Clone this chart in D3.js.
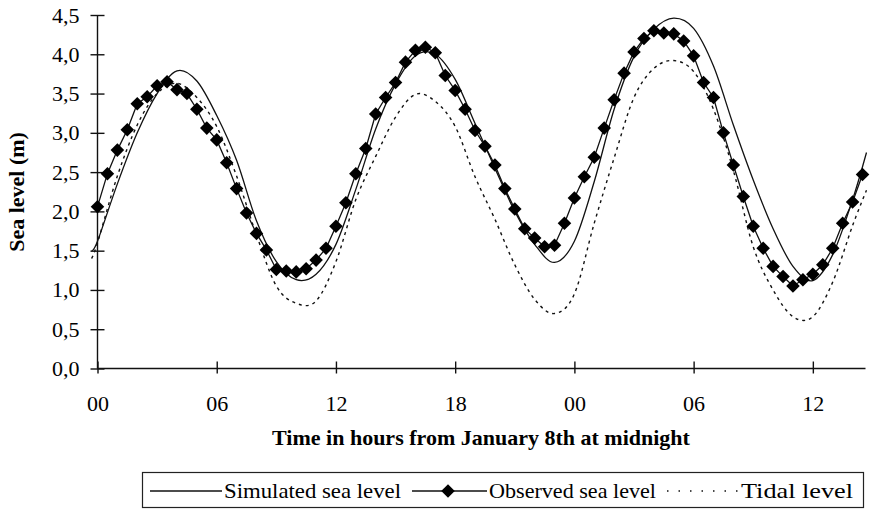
<!doctype html>
<html lang="en">
<head>
<meta charset="utf-8">
<title>Sea level</title>
<script src="https://d3js.org/d3.v7.min.js"></script>
<style>
  body { margin: 0; background: #fff; }
  svg text { font-family: "Liberation Serif", "DejaVu Serif", serif; fill: #000; }
  .axis path, .axis line { stroke: #111; stroke-width: 1.4; }
  .axis text { font-size: 22px; }
</style>
</head>
<body>
<svg width="871" height="509"></svg>
<script>
// observed sea level, every half hour from midnight (hours, m)
var obsHours = [0, 0.5, 1, 1.5, 2, 2.5, 3, 3.5, 4, 4.5, 5, 5.5, 6, 6.5, 7, 7.5, 8, 8.5, 9, 9.5,
  10, 10.5, 11, 11.5, 12, 12.5, 13, 13.5, 14, 14.5, 15, 15.5, 16, 16.5, 17, 17.5, 18, 18.5, 19, 19.5,
  20, 20.5, 21, 21.5, 22, 22.5, 23, 23.5, 24, 24.5, 25, 25.5, 26, 26.5, 27, 27.5, 28, 28.5, 29, 29.5,
  30, 30.5, 31, 31.5, 32, 32.5, 33, 33.5, 34, 34.5, 35, 35.5, 36, 36.5, 37, 37.5, 38, 38.5];
var observed = [2.06, 2.48, 2.78, 3.04, 3.37, 3.46, 3.60, 3.65, 3.55, 3.50, 3.30, 3.06, 2.91, 2.62, 2.29, 1.98, 1.72, 1.51, 1.26, 1.24,
  1.23, 1.27, 1.38, 1.53, 1.81, 2.11, 2.48, 2.80, 3.24, 3.45, 3.64, 3.90, 4.05, 4.09, 4.02, 3.73, 3.54, 3.30, 3.03, 2.83,
  2.59, 2.29, 2.03, 1.78, 1.66, 1.55, 1.57, 1.85, 2.17, 2.44, 2.69, 3.06, 3.42, 3.76, 4.03, 4.20, 4.30, 4.27, 4.26, 4.17,
  3.98, 3.64, 3.45, 3.00, 2.59, 2.19, 1.81, 1.53, 1.30, 1.17, 1.05, 1.13, 1.20, 1.32, 1.53, 1.85, 2.12, 2.47];

// simulated and tidal curves, read roughly every hour
var curveHours = [-0.3, 0, 1, 2, 3, 4, 5, 6, 7, 8, 9, 10, 11, 12, 13, 14, 15, 16, 17, 18, 19,
  20, 21, 22, 23, 24, 25, 26, 27, 28, 29, 30, 31, 32, 33, 34, 35, 36, 37, 38, 38.7];
var simulated = [1.50, 1.62, 2.35, 3.00, 3.50, 3.79, 3.66, 3.22, 2.65, 1.88, 1.36, 1.13, 1.20, 1.58, 2.28, 3.05, 3.62, 3.98, 4.00, 3.68, 3.12,
  2.55, 2.00, 1.58, 1.35, 1.62, 2.38, 3.30, 3.97, 4.32, 4.46, 4.33, 3.85, 3.10, 2.40, 1.78, 1.30, 1.12, 1.45, 2.15, 2.75];
var tidal = [1.40, 1.60, 2.45, 3.10, 3.50, 3.63, 3.45, 3.08, 2.45, 1.70, 1.05, 0.83, 0.86, 1.36, 2.15, 2.70, 3.20, 3.49, 3.40, 3.08, 2.44,
  1.90, 1.32, 0.88, 0.70, 0.95, 1.85, 2.68, 3.45, 3.82, 3.92, 3.78, 3.30, 2.52, 1.55, 1.00, 0.66, 0.66, 1.10, 1.82, 2.27];

var yTicks = [0, 0.5, 1, 1.5, 2, 2.5, 3, 3.5, 4, 4.5];
var xTicks = [0, 6, 12, 18, 24, 30, 36];
var xTickLabels = ["00", "06", "12", "18", "00", "06", "12"];
var seriesNames = ["Simulated sea level", "Observed sea level", "Tidal level"];

var serif = "'Liberation Serif', 'DejaVu Serif', serif";
var svg = d3.select("svg");

var x = d3.scaleLinear().domain([0, 38.65]).range([97.5, 865.5]);
var y = d3.scaleLinear().domain([0, 4.5]).range([368.5, 15]);

// y axis, ticks cross the line
var yAxis = svg.append("g").attr("class", "axis")
  .attr("transform", "translate(" + x(0) + ",0)")
  .call(d3.axisLeft(y).tickValues(yTicks).tickSize(7).tickPadding(11)
    .tickFormat(function(d) { return d3.format(".1f")(d).replace(".", ","); }));
yAxis.attr("font-family", serif);
yAxis.select(".domain").attr("d", "M0," + y(0) + "V" + y(4.5));
yAxis.selectAll(".tick line").attr("x1", 7);

var xAxis = svg.append("g").attr("class", "axis")
  .attr("transform", "translate(0," + y(0) + ")")
  .call(d3.axisBottom(x).tickValues(xTicks).tickSize(5).tickPadding(22)
    .tickFormat(function(d, i) { return xTickLabels[i]; }));
xAxis.attr("font-family", serif);
xAxis.select(".domain").attr("d", "M" + x(0) + ",0H" + x(38.65));
xAxis.selectAll(".tick line").attr("y1", -7);

svg.append("text")
  .attr("transform", "translate(24," + 192 + ") rotate(-90)")
  .attr("text-anchor", "middle")
  .style("font-size", "22px").style("font-weight", "bold")
  .text("Sea level (m)");

svg.append("text")
  .attr("x", 481).attr("y", 445)
  .attr("text-anchor", "middle")
  .style("font-size", "22px").style("font-weight", "bold")
  .text("Time in hours from January 8th at midnight");

var smooth = d3.line()
  .x(function(d) { return x(d[0]); })
  .y(function(d) { return y(d[1]); })
  .curve(d3.curveCardinal);

svg.append("path")
  .attr("d", smooth(d3.zip(curveHours, tidal)))
  .attr("fill", "none").attr("stroke", "#111").attr("stroke-width", 1.4)
  .attr("stroke-dasharray", "3,4");

svg.append("path")
  .attr("d", smooth(d3.zip(curveHours, simulated)))
  .attr("fill", "none").attr("stroke", "#111").attr("stroke-width", 1.3);

var obsPts = d3.zip(obsHours, observed);
svg.append("path")
  .attr("d", d3.line().x(function(d) { return x(d[0]); }).y(function(d) { return y(d[1]); })(obsPts))
  .attr("fill", "none").attr("stroke", "#111").attr("stroke-width", 1.3);

var diamond = d3.symbol(d3.symbolSquare, 92);
svg.append("g").selectAll("path")
  .data(obsPts)
  .enter().append("path")
  .attr("d", diamond)
  .attr("transform", function(d) { return "translate(" + x(d[0]) + "," + y(d[1]) + ") rotate(45)"; })
  .attr("fill", "#000");

// legend, text widths fitted to the scan
var lg = svg.append("g").style("font-size", "22px");
lg.append("rect").attr("x", 142.5).attr("y", 472.5).attr("width", 721).attr("height", 35)
  .attr("fill", "none").attr("stroke", "#222").attr("stroke-width", 1.2);

lg.append("line").attr("x1", 150).attr("x2", 222).attr("y1", 491).attr("y2", 491)
  .attr("stroke", "#111").attr("stroke-width", 1.3);
lg.append("text").attr("x", 224).attr("y", 498)
  .attr("textLength", 177).attr("lengthAdjust", "spacingAndGlyphs").text(seriesNames[0]);

lg.append("line").attr("x1", 412).attr("x2", 487).attr("y1", 491).attr("y2", 491)
  .attr("stroke", "#111").attr("stroke-width", 1.3);
lg.append("path").attr("d", diamond).attr("transform", "translate(448,491) rotate(45)").attr("fill", "#000");
lg.append("text").attr("x", 489).attr("y", 498)
  .attr("textLength", 167).attr("lengthAdjust", "spacingAndGlyphs").text(seriesNames[1]);

lg.append("line").attr("x1", 667).attr("x2", 738).attr("y1", 491).attr("y2", 491)
  .attr("stroke", "#111").attr("stroke-width", 1.5).attr("stroke-dasharray", "1.5,10");
lg.append("text").attr("x", 741).attr("y", 498)
  .attr("textLength", 112).attr("lengthAdjust", "spacingAndGlyphs").text(seriesNames[2]);
</script>
</body>
</html>
